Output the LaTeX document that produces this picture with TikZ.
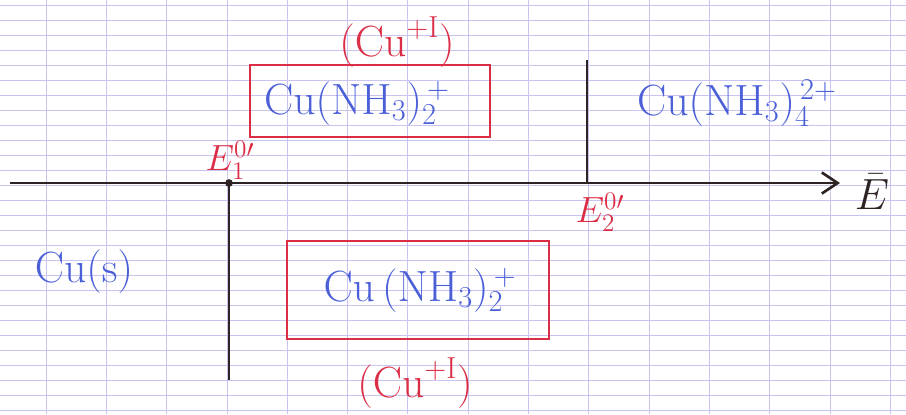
\documentclass[tikz,border=0pt]{standalone}
\usetikzlibrary{arrows.meta}
\definecolor{encre}{RGB}{75,95,215}
\definecolor{stylo}{RGB}{220,45,70}
\definecolor{crayon}{RGB}{45,35,35}
\definecolor{papier}{RGB}{200,195,240}
\tikzset{
  espece/.style={text=encre, font=\fontsize{26}{30}\selectfont},
  degre/.style={text=stylo, font=\fontsize{24}{28}\selectfont},
  potentiel/.style={text=stylo, font=\fontsize{20}{24}\selectfont},
  domaine/.style={draw=stylo, line width=1.3pt},
  trait/.style={draw=crayon, line width=1.5pt}
}
\begin{document}
\begin{tikzpicture}[x=0.02cm, y=-0.02cm]
    \useasboundingbox (0, 0) rectangle (906, 414);
    % papier
    \foreach \gy in {5, 20, ..., 410}
        \draw[papier, line width=0.4pt] (0, \gy) -- (906, \gy);
    \foreach \k in {0, ..., 14}
        \draw[papier, line width=0.4pt] (46 + 60.3*\k, 0) -- (46 + 60.3*\k, 414);

    % axe des potentiels
    \coordinate (gauche) at (10, 183);
    \coordinate (droite) at (840, 183);
    \coordinate (E1) at (229, 183);
    \coordinate (E2) at (587, 183);
    \coordinate (bas) at (229, 380);
    \coordinate (haut) at (587, 60);
    \draw[trait, -{Straight Barb[length=9pt, width=12pt]}] (gauche) -- (droite);
    \node[text=crayon, font=\fontsize{26}{30}\selectfont] (E) at (872, 192) {$\bar{E}$};
    \draw[trait] (E1) -- (bas);
    \draw[trait] (E2) -- (haut);
    \fill[crayon] (E1) circle (2.2pt);

    % domaines
    \draw[domaine] (250, 65) rectangle (490, 137);
    \draw[domaine] (287, 241) rectangle (549, 339);

    % especes
    \node[espece] (cuI) at (357, 103) {$\mathrm{Cu(NH_3)_2^{\,+}}$};
    \node[espece] (cuII) at (737, 103) {$\mathrm{Cu(NH_3)_4^{\,2+}}$};
    \node[espece] (cus) at (84, 272) {$\mathrm{Cu(s)}$};
    \node[espece] (cuIbis) at (420, 290) {$\mathrm{Cu\,(NH_3)_2^{\,+}}$};

    % nombres d'oxydation
    \node[degre] (noI) at (397, 42) {$(\mathrm{Cu}^{+\mathrm{I}})$};
    \node[degre] (noIbis) at (415, 383) {$(\mathrm{Cu}^{+\mathrm{I}})$};

    % potentiels standard
    \node[potentiel] (lE1) at (230, 160) {$E_1^{0\prime}$};
    \node[potentiel] (lE2) at (600, 212) {$E_2^{0\prime}$};
\end{tikzpicture}
\end{document}
